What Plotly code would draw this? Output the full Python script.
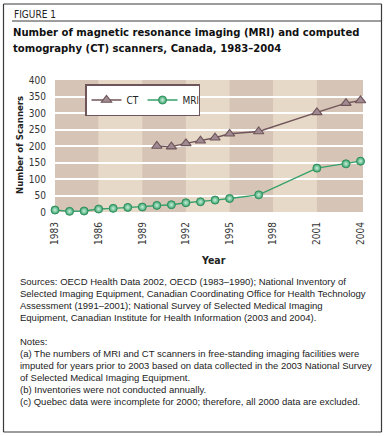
import plotly.graph_objects as go

# ---- data ----
ct_years = [1990, 1991, 1992, 1993, 1994, 1995, 1997, 2001, 2003, 2004]
ct_values = [200, 198, 208, 216, 225, 237, 244, 302, 330, 338]

mri_years = [1983, 1984, 1985, 1986, 1987, 1988, 1989, 1990, 1991, 1992,
             1993, 1994, 1995, 1997, 2001, 2003, 2004]
mri_values = [6, 2, 3, 9, 11, 14, 15, 20, 22, 28, 31, 36, 41, 52, 133, 146, 154]

x_ticks = [1983, 1986, 1989, 1992, 1995, 1998, 2001, 2004]
y_ticks = [0, 50, 100, 150, 200, 250, 300, 350, 400]

title_lines = ["Number of magnetic resonance imaging (MRI) and computed",
               "tomography (CT) scanners, Canada, 1983\u20132004"]
source_lines = [
    "Sources: OECD Health Data 2002, OECD (1983\u20131990); National Inventory of",
    "Selected Imaging Equipment, Canadian Coordinating Office for Health Technology",
    "Assessment (1991\u20132001); National Survey of Selected Medical Imaging",
    "Equipment, Canadian Institute for Health Information (2003 and 2004).",
]
note_lines = [
    "Notes:",
    "(a) The numbers of MRI and CT scanners in free-standing imaging facilities were",
    "imputed for years prior to 2003 based on data collected in the 2003 National Survey",
    "of Selected Medical Imaging Equipment.",
    "(b) Inventories were not conducted annually.",
    "(c) Quebec data were incomplete for 2000; therefore, all 2000 data are excluded.",
]

# ---- layout geometry (pixels) ----
W, H = 386, 436
L, R, T, B = 55, 363, 80, 212
X_MAX = 2004.17


def px(x):
    return (x - L) / (R - L)


def py(y):
    return (B - y) / (B - T)


NARROW = "DejaVu Sans Condensed, Liberation Sans Narrow, sans-serif"
SANS = "Liberation Sans, Arial, sans-serif"

DARK_BAND = "#d6c4b6"
LIGHT_BAND = "#e7d9c8"
CT_LINE = "#6f5459"
CT_FILL = "#a08b93"
MRI_LINE = "#35a06a"
MRI_FILL = "#3aa36e"

fig = go.Figure()

fig.add_trace(go.Scatter(
    x=ct_years, y=ct_values, name="CT", mode="lines+markers",
    line=dict(color=CT_LINE, width=1.4),
    marker=dict(symbol="triangle-up", size=9, color=CT_FILL,
                line=dict(color=CT_LINE, width=1.1)),
    cliponaxis=False,
))
fig.add_trace(go.Scatter(
    x=mri_years, y=mri_values, name="MRI", mode="lines+markers",
    line=dict(color=MRI_LINE, width=1.4),
    marker=dict(symbol="circle", size=8, color=MRI_FILL,
                gradient=dict(type="radial", color="#c9efdb"),
                line=dict(color="#2f8f5c", width=1)),
    cliponaxis=False,
))

shapes = []
# alternating background bands between tick years
edges = x_ticks[:-1] + [X_MAX]
for i in range(len(edges) - 1):
    shapes.append(dict(type="rect", xref="x", yref="paper",
                       x0=edges[i], x1=edges[i + 1], y0=0, y1=1,
                       fillcolor=DARK_BAND if i % 2 == 0 else LIGHT_BAND,
                       line=dict(width=0), layer="below"))
# outer frame (four sides)
fx0, fx1, fy0, fy1 = px(3.5), px(381.5), py(4), py(432)
for (a, b, c, d) in [(fx0, fy0, fx1, fy0), (fx0, fy1, fx1, fy1),
                     (fx0, fy0, fx0, fy1), (fx1, fy0, fx1, fy1)]:
    shapes.append(dict(type="line", xref="paper", yref="paper",
                       x0=a, y0=b, x1=c, y1=d,
                       line=dict(color="#3a3a3a", width=1.2), layer="above"))
# rule under "FIGURE 1"
shapes.append(dict(type="line", xref="paper", yref="paper",
                   x0=px(12), x1=px(381.5), y0=py(21), y1=py(21),
                   line=dict(color="#3a3a3a", width=1), layer="above"))

annotations = []
annotations.append(dict(text="FIGURE 1", x=px(12), y=py(14), xref="paper", yref="paper",
                        xanchor="left", yanchor="middle", showarrow=False,
                        font=dict(family=NARROW, size=10, color="#222")))
for i, t in enumerate(title_lines):
    annotations.append(dict(text="<b>%s</b>" % t, x=px(11), y=py(32 + 16 * i),
                            xref="paper", yref="paper", xanchor="left", yanchor="middle",
                            showarrow=False, font=dict(family=NARROW, size=11.2, color="#111")))
for i, t in enumerate(source_lines):
    annotations.append(dict(text=t, x=px(18), y=py(281 + 12 * i),
                            xref="paper", yref="paper", xanchor="left", yanchor="middle",
                            showarrow=False, font=dict(family=SANS, size=9.5, color="#222")))
for i, t in enumerate(note_lines):
    annotations.append(dict(text=t, x=px(18), y=py(341 + 12 * i),
                            xref="paper", yref="paper", xanchor="left", yanchor="middle",
                            showarrow=False, font=dict(family=SANS, size=9.5, color="#222")))
annotations.append(dict(text="<b>Number of Scanners</b>", x=px(19), y=py(145), textangle=-90,
                        xref="paper", yref="paper", xanchor="center", yanchor="middle",
                        showarrow=False, font=dict(family=NARROW, size=9.5, color="#222")))
annotations.append(dict(text="<b>Year</b>", x=px(213), y=py(260),
                        xref="paper", yref="paper", xanchor="center", yanchor="middle",
                        showarrow=False, font=dict(family=NARROW, size=10.5, color="#222")))

fig.update_layout(
    width=W, height=H,
    margin=dict(l=L, r=W - R, t=T, b=H - B, pad=0),
    paper_bgcolor="white", plot_bgcolor=LIGHT_BAND,
    showlegend=True,
    legend=dict(x=px(85), y=py(84), xanchor="left", yanchor="top",
                orientation="h", bgcolor="white", bordercolor=CT_LINE, borderwidth=1.5,
                font=dict(family=NARROW, size=10, color="#222"),
                itemwidth=30, tracegroupgap=0, traceorder="normal",
                entrywidth=11, entrywidthmode="pixels"),
    shapes=shapes, annotations=annotations,
    xaxis=dict(range=[1983, X_MAX], tickvals=x_ticks, ticktext=[str(v) for v in x_ticks],
               tickangle=-90, showgrid=False, zeroline=False, showline=False,
               ticks="outside", ticklen=5, tickcolor="rgba(0,0,0,0)",
               tickfont=dict(family=NARROW, size=10, color="#333")),
    yaxis=dict(range=[0, 400], tickvals=y_ticks, showgrid=True, gridcolor="white",
               gridwidth=1.5, zeroline=False, showline=False,
               ticks="outside", ticklen=6, tickcolor="rgba(0,0,0,0)",
               tickfont=dict(family=NARROW, size=10, color="#333")),
)

fig.write_html("out.html", config={"displayModeBar": False},
               post_script="document.body.style.margin='0px';")
